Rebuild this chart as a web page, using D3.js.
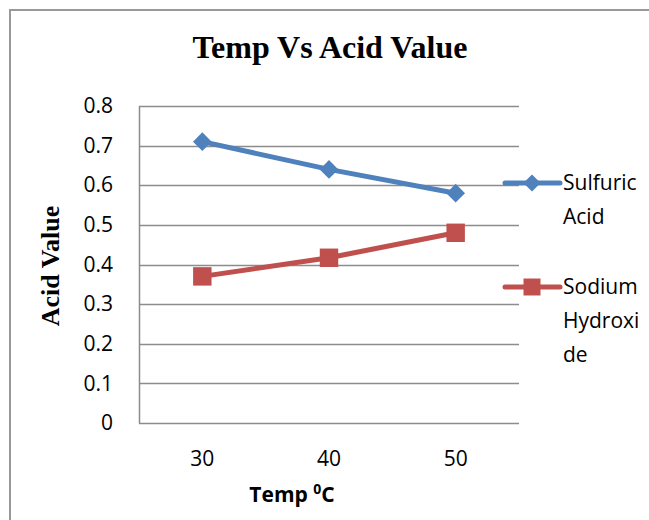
<!DOCTYPE html>
<html>
<head>
<meta charset="utf-8">
<script src="https://cdn.jsdelivr.net/npm/d3@7"></script>
<style>
	body { margin: 0; background: #fff; }
	svg { display: block; }
</style>
</head>
<body>
<svg width="649" height="520"></svg>
<script>
"use strict";

var temps = ["30", "40", "50"];
var sulfuric = [0.71, 0.64, 0.58];
var sodium = [0.37, 0.417, 0.48];
var yTicks = [0, 0.1, 0.2, 0.3, 0.4, 0.5, 0.6, 0.7, 0.8];
var seriesNames = [["Sulfuric", "Acid"], ["Sodium", "Hydroxi", "de"]];

var blue = "#4f81bd";
var red = "#c0504d";
var grid = "#8c8c8c";
var sans = "'Open Sans', Lato, sans-serif";
var serif = "'Liberation Serif', 'Times New Roman', serif";

var svg = d3.select('svg');

// outer frame, only top and left edges show in the picture
svg.append('path')
	.attr('d', 'M10,520 V10 H649')
	.attr('fill', 'none')
	.attr('stroke', '#999')
	.attr('stroke-width', 2);

var plotL = 139, plotR = 519, plotT = 106, plotB = 423;

var x = d3.scaleBand().domain(temps).range([plotL, plotR]);
var y = d3.scaleLinear().domain([0, 0.8]).range([plotB, plotT]);

// gridlines
svg.append('g').selectAll('line').data(yTicks).enter().append('line')
	.attr('x1', plotL)
	.attr('x2', plotR)
	.attr('y1', function(d) {return Math.round(y(d)) + 0.5})
	.attr('y2', function(d) {return Math.round(y(d)) + 0.5})
	.attr('stroke', grid)
	.attr('stroke-width', 1.5);

svg.append('line')
	.attr('x1', plotL + 0.5).attr('x2', plotL + 0.5)
	.attr('y1', plotT).attr('y2', plotB + 0.5)
	.attr('stroke', grid)
	.attr('stroke-width', 1.5);

var yAxis = svg.append('g')
	.attr('transform', 'translate(' + plotL + ',0)')
	.call(d3.axisLeft(y).tickValues(yTicks).tickSize(0).tickPadding(26)
		.tickFormat(function(d) {return d === 0 ? "0" : d3.format(".1f")(d)}));
yAxis.select('.domain').remove();
yAxis.selectAll('text').attr('font-family', sans).attr('font-size', 21).attr('fill', '#000');

var xAxis = svg.append('g')
	.attr('transform', 'translate(0,' + plotB + ')')
	.call(d3.axisBottom(x).tickSize(0).tickPadding(28));
xAxis.select('.domain').remove();
xAxis.selectAll('text').attr('font-family', sans).attr('font-size', 21).attr('fill', '#000');

// titles
svg.append('text')
	.attr('x', 330).attr('y', 58)
	.attr('text-anchor', 'middle')
	.attr('font-family', serif)
	.attr('font-weight', 'bold')
	.attr('font-size', 32)
	.text('Temp Vs Acid Value');

svg.append('text')
	.attr('transform', 'translate(59,266) rotate(-90)')
	.attr('text-anchor', 'middle')
	.attr('font-family', serif)
	.attr('font-weight', 'bold')
	.attr('font-size', 26)
	.text('Acid Value');

var xt = svg.append('text')
	.attr('x', 292).attr('y', 502)
	.attr('text-anchor', 'middle')
	.attr('font-family', sans)
	.attr('font-weight', 'bold')
	.attr('font-size', 21);
xt.append('tspan').text('Temp ');
xt.append('tspan').attr('font-size', 14).attr('dy', -8).text('0');
xt.append('tspan').attr('dy', 8).text('C');

// series
var cx = function(d, i) {return x(temps[i]) + x.bandwidth() / 2};
var line = d3.line().x(cx).y(function(d) {return y(d)});

var series = [
	{name: seriesNames[0], values: sulfuric, color: blue, shape: d3.symbolSquare, size: 175, rot: 45},
	{name: seriesNames[1], values: sodium, color: red, shape: d3.symbolSquare, size: 340, rot: 0}
];

series.forEach(function(s) {
	svg.append('path')
		.attr('d', line(s.values))
		.attr('fill', 'none')
		.attr('stroke', s.color)
		.attr('stroke-width', 5)
		.attr('stroke-linejoin', 'round');
	svg.append('g').selectAll('path').data(s.values).enter().append('path')
		.attr('d', d3.symbol().type(s.shape).size(s.size))
		.attr('transform', function(d, i) {
			return 'translate(' + cx(d, i) + ',' + y(d) + ') rotate(' + s.rot + ')';
		})
		.attr('fill', s.color);
});

// legend
var legendY = [183, 287];
series.forEach(function(s, i) {
	var g = svg.append('g').attr('transform', 'translate(0,' + legendY[i] + ')');
	g.append('line')
		.attr('x1', 505).attr('x2', 560)
		.attr('stroke', s.color)
		.attr('stroke-width', 5)
		.attr('stroke-linecap', 'round');
	g.append('path')
		.attr('d', d3.symbol().type(s.shape).size(s.size * 0.85))
		.attr('transform', 'translate(532,0) rotate(' + s.rot + ')')
		.attr('fill', s.color);
	g.selectAll('text').data(s.name).enter().append('text')
		.attr('x', 563)
		.attr('y', function(d, j) {return 7 + j * 34})
		.attr('font-family', sans)
		.attr('font-size', 21)
		.text(function(d) {return d});
});
</script>
</body>
</html>
